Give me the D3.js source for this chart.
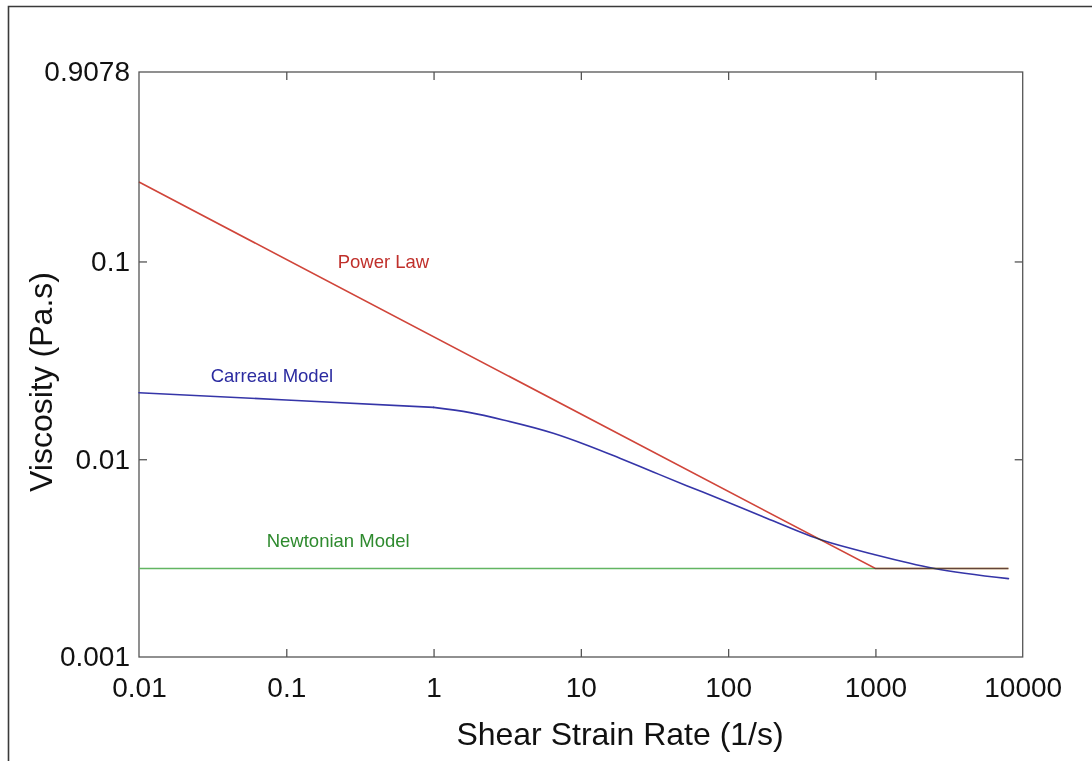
<!DOCTYPE html>
<html>
<head>
<meta charset="utf-8">
<script src="https://cdn.jsdelivr.net/npm/d3@7/dist/d3.min.js"></script>
<style>
  html, body { margin: 0; padding: 0; background: #fff; }
  svg { display: block; }
  text { font-family: "Liberation Sans", Arial, sans-serif; }
</style>
</head>
<body>
<svg id="chart" width="1092" height="761"></svg>
<script>
// Shear rate ticks (1/s) and viscosity ticks (Pa.s)
const xTicks = [0.01, 0.1, 1, 10, 100, 1000, 10000];
const yTicks = [0.001, 0.01, 0.1, 0.9078];

// Newtonian model: constant viscosity
const newtonianRate = [0.01, 8000];
const newtonianVisc = [0.0028, 0.0028];

// Power law model, limited below by the infinite-shear viscosity
const powerRate = [0.01, 1000, 8000];
const powerVisc = [0.252, 0.0028, 0.0028];

// Carreau model: near-plateau region, then shear thinning
const carreauLowRate = [0.01, 0.1, 1];
const carreauLowVisc = [0.0217, 0.01994, 0.01829];
const carreauRate = [1, 1.77, 2.97, 6.5, 10.9, 18.4, 31.0, 52.3, 88, 182.5, 442, 966, 2469, 8000];
const carreauVisc = [0.01829, 0.0172, 0.0158, 0.01353, 0.01181, 0.01012, 0.00862, 0.00735, 0.0063, 0.00503, 0.003877, 0.00331, 0.00281, 0.00249];

const svg = d3.select("#chart");
const plotLeft = 139, plotRight = 1022.7, plotTop = 72, plotBottom = 657;

const x = d3.scaleLog().domain([0.01, 10000]).range([plotLeft, plotRight]);
const y = d3.scaleLog().domain([0.001, 0.9078]).range([plotBottom, plotTop]);

// outer border (left and top edges fall inside the page)
svg.append("path")
  .attr("d", "M8.5,761 L8.5,6.5 L1092,6.5")
  .attr("fill", "none").attr("stroke", "#3a3a3a").attr("stroke-width", 1.6);

const fmt = d => (d === 0.9078 ? "0.9078" : String(+d.toPrecision(4)));
const tickColor = "#555";

function styleAxis(g, ends) {
  g.select(".domain").remove();
  g.selectAll(".tick line").attr("stroke", tickColor).attr("stroke-width", 1.3)
    .filter(d => ends.includes(d)).remove();
  g.selectAll(".tick text").attr("fill", "#111").style("font-size", "28px")
    .style("font-family", '"Liberation Sans", Arial, sans-serif');
}
const xEnds = [0.01, 10000], yEnds = [0.001, 0.9078];

svg.append("g").attr("transform", `translate(0,${plotBottom})`)
  .call(d3.axisBottom(x).tickValues(xTicks).tickFormat(fmt).tickSize(-8).tickPadding(20))
  .call(styleAxis, xEnds);
svg.append("g").attr("transform", `translate(0,${plotTop})`)
  .call(d3.axisTop(x).tickValues(xTicks).tickFormat("").tickSize(-8))
  .call(styleAxis, xEnds);
svg.append("g").attr("transform", `translate(${plotLeft},0)`)
  .call(d3.axisLeft(y).tickValues(yTicks).tickFormat(fmt).tickSize(-8).tickPadding(9))
  .call(styleAxis, yEnds);
svg.append("g").attr("transform", `translate(${plotRight},0)`)
  .call(d3.axisRight(y).tickValues(yTicks).tickFormat("").tickSize(-8))
  .call(styleAxis, yEnds);

// plot frame
svg.append("rect")
  .attr("x", plotLeft).attr("y", plotTop)
  .attr("width", plotRight - plotLeft).attr("height", plotBottom - plotTop)
  .attr("fill", "none").attr("stroke", tickColor).attr("stroke-width", 1.3);

const line = d3.line().x(d => x(d[0])).y(d => y(d[1]));
const smooth = d3.line().x(d => x(d[0])).y(d => y(d[1])).curve(d3.curveMonotoneX);

svg.append("path")
  .attr("d", line(d3.zip(newtonianRate, newtonianVisc)))
  .attr("fill", "none").attr("stroke", "#62b562").attr("stroke-width", 1.6);

const carreau = svg.append("g")
  .attr("fill", "none").attr("stroke", "#3535a8").attr("stroke-width", 1.6)
  .attr("stroke-linejoin", "round").attr("stroke-linecap", "round");
carreau.append("path").attr("d", line(d3.zip(carreauLowRate, carreauLowVisc)));
carreau.append("path").attr("d", smooth(d3.zip(carreauRate, carreauVisc)));

svg.append("path")
  .attr("d", line(d3.zip(powerRate, powerVisc)))
  .attr("fill", "none").attr("stroke", "#d0453a").attr("stroke-width", 1.6)
  .style("mix-blend-mode", "darken");

// series labels
const labels = [
  { text: "Power Law", x: 337.7, y: 268.3, color: "#c0302b" },
  { text: "Carreau Model", x: 210.7, y: 381.7, color: "#2b2ba0" },
  { text: "Newtonian Model", x: 266.7, y: 547.3, color: "#2e8a2e" }
];
svg.selectAll(".series-label").data(labels).enter().append("text")
  .attr("class", "series-label")
  .attr("x", d => d.x).attr("y", d => d.y)
  .attr("fill", d => d.color)
  .style("font-size", "18.5px")
  .text(d => d.text);

// axis titles
svg.append("text")
  .attr("x", 620).attr("y", 745)
  .attr("text-anchor", "middle").attr("fill", "#111")
  .style("font-size", "32px")
  .text("Shear Strain Rate (1/s)");

svg.append("text")
  .attr("transform", "translate(52,382) rotate(-90)")
  .attr("text-anchor", "middle").attr("fill", "#111")
  .style("font-size", "32px")
  .text("Viscosity (Pa.s)");
</script>
</body>
</html>
